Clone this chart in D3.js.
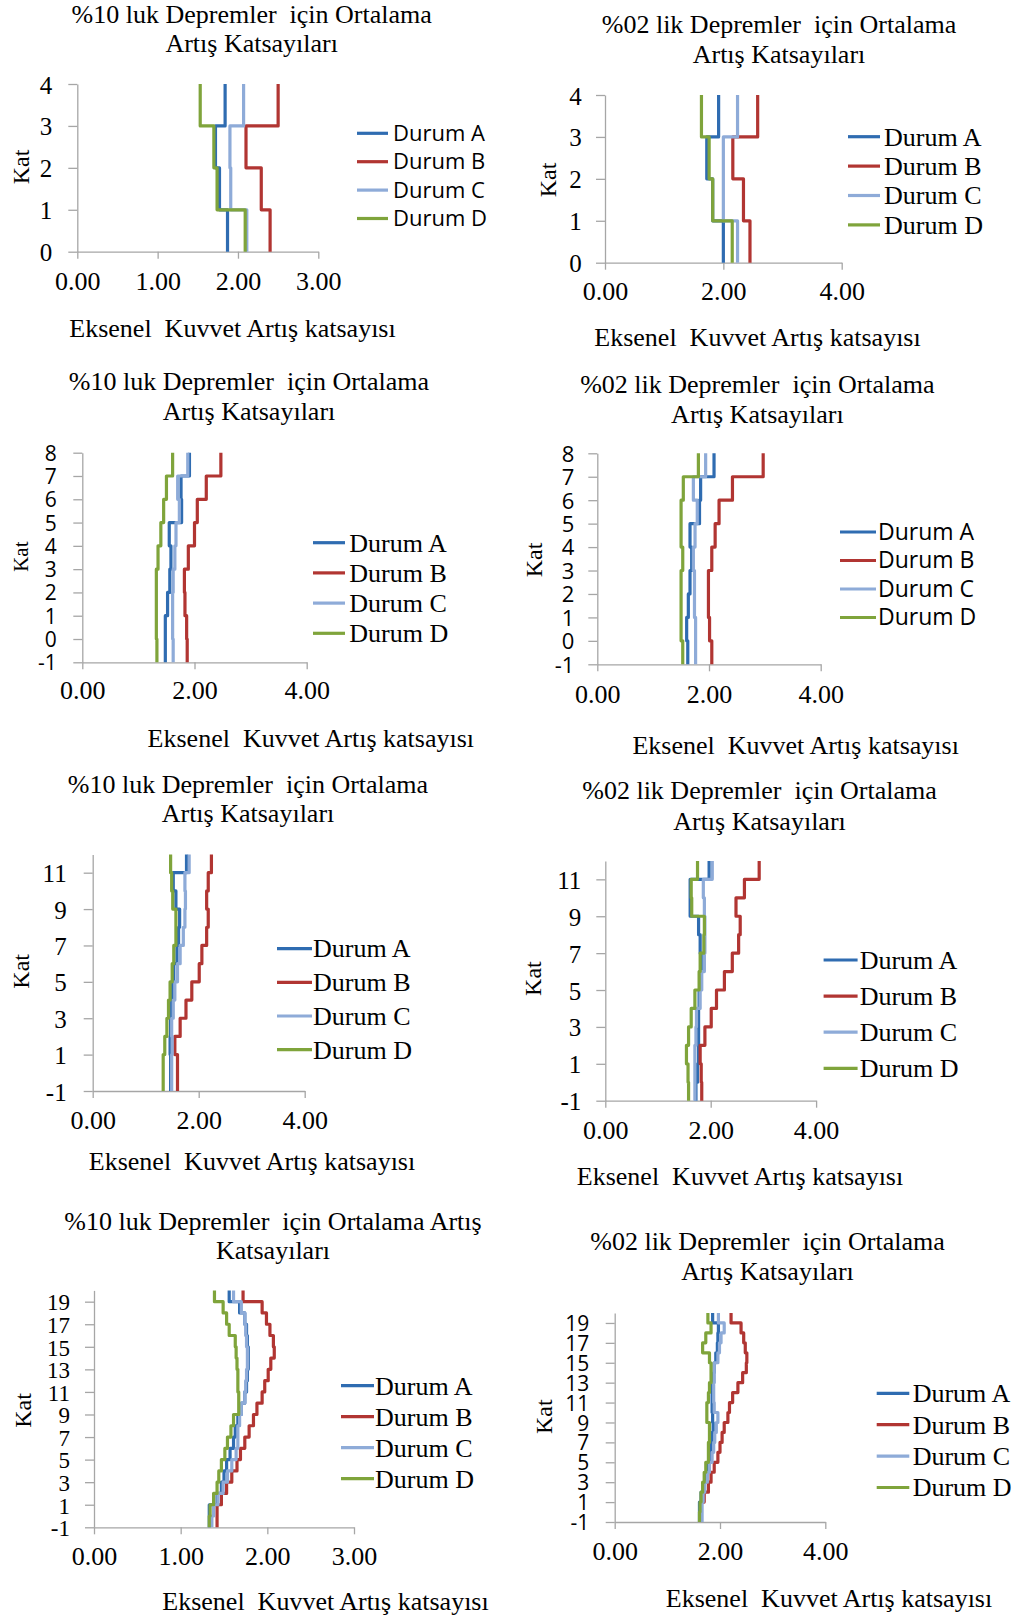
<!DOCTYPE html>
<html>
<head>
<meta charset="utf-8">
<script src="https://cdn.jsdelivr.net/npm/d3@7"></script>
<style>
  body { margin: 0; background: #fff; }
  svg { display: block; }
  text { fill: #000; white-space: pre; }
</style>
</head>
<body>
<div id="chart"></div>
<script>
// seri adlari ve renkler
const durumlar = ["Durum A", "Durum B", "Durum C", "Durum D"];
const renkler = ["#2f6cb1", "#b13532", "#8eabd8", "#7fa43b"];

// basliklar
const baslik10 = ["%10 luk Depremler  için Ortalama", "Artış Katsayıları"];
const baslik02 = ["%02 lik Depremler  için Ortalama", "Artış Katsayıları"];
const baslik10uzun = ["%10 luk Depremler  için Ortalama Artış", "Katsayıları"];
const eksenX = "Eksenel  Kuvvet Artış katsayısı";
const eksenY = "Kat";

// tick degerleri
const katTicks4 = [0, 1, 2, 3, 4];
const katTicks8 = [-1, 0, 1, 2, 3, 4, 5, 6, 7, 8];
const katTicks12 = [-1, 1, 3, 5, 7, 9, 11];
const katTicks20 = [-1, 1, 3, 5, 7, 9, 11, 13, 15, 17, 19];
const xTicks3 = [0, 1, 2, 3];
const xTicks4 = [0, 2, 4];

// 4 katli - %10 (kat 0..3)
const p1A = [1.87, 1.77, 1.72, 1.84];
const p1B = [2.40, 2.29, 2.10, 2.50];
const p1C = [2.11, 1.91, 1.90, 2.07];
const p1D = [2.09, 1.74, 1.70, 1.53];
// 4 katli - %02
const p2A = [2.00, 1.82, 1.72, 1.92];
const p2B = [2.45, 2.34, 2.16, 2.58];
const p2C = [2.24, 2.00, 2.00, 2.24];
const p2D = [2.15, 1.82, 1.76, 1.63];

// 8 katli - %10 (kat -1..7)
const p3A = [1.48, 1.48, 1.52, 1.56, 1.58, 1.55, 1.77, 1.76, 1.91];
const p3B = [1.87, 1.86, 1.83, 1.82, 1.89, 2.00, 2.05, 2.21, 2.47];
const p3C = [1.62, 1.61, 1.61, 1.62, 1.65, 1.67, 1.73, 1.70, 1.88];
const p3D = [1.33, 1.32, 1.32, 1.32, 1.35, 1.40, 1.45, 1.50, 1.61];
// 8 katli - %02
const p4A = [1.62, 1.60, 1.63, 1.66, 1.69, 1.66, 1.83, 1.85, 2.09];
const p4B = [2.05, 2.01, 1.99, 1.99, 2.05, 2.11, 2.18, 2.42, 2.97];
const p4C = [1.76, 1.76, 1.74, 1.74, 1.72, 1.75, 1.79, 1.72, 1.94];
const p4D = [1.53, 1.50, 1.50, 1.50, 1.53, 1.50, 1.50, 1.54, 1.81];

// 12 katli - %10 (kat -1..11)
const p5A = [1.47, 1.47, 1.46, 1.47, 1.49, 1.50, 1.53, 1.59, 1.62, 1.64, 1.57, 1.52, 1.77];
const p5B = [1.60, 1.60, 1.55, 1.65, 1.76, 1.87, 2.01, 2.06, 2.15, 2.18, 2.15, 2.18, 2.24];
const p5C = [1.49, 1.49, 1.50, 1.49, 1.52, 1.55, 1.60, 1.65, 1.71, 1.74, 1.75, 1.74, 1.82];
const p5D = [1.33, 1.33, 1.36, 1.40, 1.43, 1.46, 1.50, 1.53, 1.57, 1.57, 1.51, 1.49, 1.47];
// 12 katli - %02
const p6A = [1.72, 1.75, 1.77, 1.77, 1.77, 1.78, 1.79, 1.82, 1.80, 1.77, 1.61, 1.61, 1.97];
const p6B = [1.83, 1.82, 1.80, 1.89, 2.01, 2.11, 2.26, 2.41, 2.53, 2.56, 2.48, 2.64, 2.92];
const p6C = [1.70, 1.70, 1.70, 1.72, 1.73, 1.80, 1.83, 1.88, 1.89, 1.89, 1.88, 1.86, 2.03];
const p6D = [1.58, 1.57, 1.54, 1.58, 1.63, 1.70, 1.78, 1.80, 1.87, 1.88, 1.64, 1.63, 1.75];

// 20 katli - %10 (kat -1..19)
const p7A = [1.33, 1.33, 1.42, 1.47, 1.50, 1.53, 1.57, 1.61, 1.63, 1.66, 1.70, 1.74, 1.76, 1.77, 1.78, 1.78, 1.77, 1.76, 1.74, 1.68, 1.56];
const p7B = [1.42, 1.42, 1.47, 1.53, 1.59, 1.65, 1.69, 1.74, 1.79, 1.84, 1.88, 1.94, 1.97, 2.01, 2.04, 2.08, 2.07, 2.03, 1.99, 1.94, 1.72];
const p7C = [1.36, 1.38, 1.43, 1.49, 1.54, 1.59, 1.64, 1.66, 1.66, 1.68, 1.70, 1.74, 1.75, 1.76, 1.77, 1.77, 1.76, 1.75, 1.74, 1.70, 1.61];
const p7D = [1.33, 1.34, 1.38, 1.42, 1.44, 1.47, 1.51, 1.54, 1.58, 1.61, 1.67, 1.67, 1.66, 1.66, 1.65, 1.64, 1.63, 1.56, 1.53, 1.49, 1.39];
// 20 katli - %02
const p8A = [1.61, 1.61, 1.64, 1.70, 1.73, 1.77, 1.80, 1.83, 1.85, 1.87, 1.86, 1.85, 1.85, 1.86, 1.88, 1.89, 1.92, 1.95, 1.96, 1.97, 1.86];
const p8B = [1.62, 1.64, 1.70, 1.78, 1.83, 1.89, 1.96, 2.00, 2.04, 2.08, 2.15, 2.18, 2.24, 2.34, 2.43, 2.50, 2.51, 2.48, 2.45, 2.40, 2.21];
const p8C = [1.66, 1.66, 1.68, 1.71, 1.76, 1.80, 1.85, 1.88, 1.90, 1.93, 1.96, 1.89, 1.88, 1.88, 1.89, 1.89, 1.96, 1.99, 2.02, 2.08, 1.97];
const p8D = [1.61, 1.62, 1.64, 1.67, 1.70, 1.73, 1.78, 1.78, 1.80, 1.80, 1.75, 1.75, 1.78, 1.80, 1.83, 1.83, 1.80, 1.67, 1.73, 1.83, 1.77];

const SERIF = "'Liberation Serif', 'Times New Roman', serif";
const SANS = "'Open Sans', 'Liberation Sans', sans-serif";

// panel yerlesimi
const paneller = [
  { seriler: [p1A, p1B, p1C, p1D], katBas: 0, katSon: 4, katTicks: katTicks4, xMax: 3, xTicks: xTicks3, baslik: baslik10,
    xL: 77.3, xR: 318.3, yT: 84, yB: 251.7, tx: 251.7, ty: [23.3, 51.7], kat: [21, 167, 24],
    yFont: SERIF, yFs: 25, yOff: 25, xOff: 38.3, ex: [232.5, 337],
    leg: { x1: 357, x2: 388, tx: 393, y0: 133.3, dy: 28.4, font: SANS, fs: 22 } },
  { seriler: [p2A, p2B, p2C, p2D], katBas: 0, katSon: 4, katTicks: katTicks4, xMax: 4, xTicks: xTicks4, baslik: baslik02,
    xL: 605, xR: 841.7, yT: 95, yB: 262.7, tx: 779, ty: [33, 63], kat: [548, 180, 24],
    yFont: SERIF, yFs: 25, yOff: 23.3, xOff: 37.3, ex: [757.5, 346],
    leg: { x1: 848, x2: 880, tx: 884, y0: 136.7, dy: 29.4, font: SERIF, fs: 26 } },
  { seriler: [p3A, p3B, p3C, p3D], katBas: -1, katSon: 8, katTicks: katTicks8, xMax: 4, xTicks: xTicks4, baslik: baslik10,
    xL: 82.3, xR: 306.7, yT: 452.7, yB: 662.3, tx: 249, ty: [390, 419.5], kat: [20.7, 556.7, 21],
    yFont: SANS, yFs: 21, yOff: 25.6, xOff: 37, ex: [310.8, 746.7],
    leg: { x1: 313, x2: 345, tx: 349.3, y0: 542.7, dy: 30.2, font: SERIF, fs: 26 } },
  { seriler: [p4A, p4B, p4C, p4D], katBas: -1, katSon: 8, katTicks: katTicks8, xMax: 4, xTicks: xTicks4, baslik: baslik02,
    xL: 597.3, xR: 820.7, yT: 453.3, yB: 664.3, tx: 757.4, ty: [393.4, 423.4], kat: [533.3, 560, 24],
    yFont: SANS, yFs: 22, yOff: 23, xOff: 38.7, ex: [795.7, 754],
    leg: { x1: 840, x2: 876, tx: 878, y0: 532, dy: 28.5, font: SANS, fs: 23 } },
  { seriler: [p5A, p5B, p5C, p5D], katBas: -1, katSon: 12, katTicks: katTicks12, xMax: 4, xTicks: xTicks4, baslik: baslik10,
    xL: 92.7, xR: 304.7, yT: 854.5, yB: 1091, tx: 248, ty: [793.3, 822.3], kat: [20.7, 971.3, 24],
    yFont: SERIF, yFs: 25, yOff: 26, xOff: 38, ex: [252, 1169.5],
    leg: { x1: 277, x2: 312, tx: 313, y0: 948.6, dy: 33.7, font: SERIF, fs: 26 } },
  { seriler: [p6A, p6B, p6C, p6D], katBas: -1, katSon: 12, katTicks: katTicks12, xMax: 4, xTicks: xTicks4, baslik: baslik02,
    xL: 605.3, xR: 816.1, yT: 860.9, yB: 1100.7, tx: 759.5, ty: [798.5, 829.5], kat: [533, 978.6, 24],
    yFont: SERIF, yFs: 25, yOff: 24, xOff: 38.8, ex: [740, 1185],
    leg: { x1: 823.6, x2: 857.6, tx: 859.7, y0: 960, dy: 36.1, font: SERIF, fs: 26 } },
  { seriler: [p7A, p7B, p7C, p7D], katBas: -1, katSon: 20, katTicks: katTicks20, xMax: 3, xTicks: xTicks3, baslik: baslik10uzun,
    xL: 94, xR: 354, yT: 1290.4, yB: 1527.3, tx: 273, ty: [1230.4, 1259.4], kat: [22.7, 1410.5, 24],
    yFont: SERIF, yFs: 23, yOff: 24, xOff: 37.7, ex: [325.5, 1609.7],
    leg: { x1: 341, x2: 374, tx: 375, y0: 1385.7, dy: 31, font: SERIF, fs: 26 } },
  { seriler: [p8A, p8B, p8C, p8D], katBas: -1, katSon: 20, katTicks: katTicks20, xMax: 4, xTicks: xTicks4, baslik: baslik02,
    xL: 614.7, xR: 825.3, yT: 1313, yB: 1522, tx: 767.5, ty: [1250, 1280], kat: [543.3, 1416.7, 24],
    yFont: SANS, yFs: 21, yOff: 25.4, xOff: 38, ex: [829, 1606.7],
    leg: { x1: 876.7, x2: 909.3, tx: 912.7, y0: 1393.3, dy: 31.4, font: SERIF, fs: 26 } }
];

const svg = d3.select("#chart").append("svg")
    .attr("width", 1024)
    .attr("height", 1620);

paneller.forEach(p => {
  const x = d3.scaleLinear().domain([0, p.xMax]).range([p.xL, p.xR]);
  const y = d3.scaleLinear().domain([p.katBas, p.katSon]).range([p.yB, p.yT]);
  const g = svg.append("g");

  // baslik
  p.baslik.forEach((t, i) => {
    g.append("text")
      .attr("x", p.tx).attr("y", p.ty[i])
      .attr("text-anchor", "middle")
      .style("font-family", SERIF).style("font-size", "26px")
      .text(t);
  });

  // y ekseni
  const ya = g.append("g")
      .attr("transform", "translate(" + p.xL + ",0)")
      .call(d3.axisLeft(y).tickValues(p.katTicks).tickSize(9).tickSizeOuter(0).tickFormat(d => String(d)))
      .attr("font-family", null).attr("font-size", null);
  ya.select(".domain").attr("stroke", "#a6a6a6").attr("stroke-width", 1.3);
  ya.selectAll(".tick line").attr("stroke", "#a6a6a6").attr("stroke-width", 1.3);
  ya.selectAll(".tick text")
      .attr("x", -p.yOff).attr("dy", "0.36em")
      .style("font-family", p.yFont).style("font-size", p.yFs + "px");

  // x ekseni
  const xa = g.append("g")
      .attr("transform", "translate(0," + p.yB + ")")
      .call(d3.axisBottom(x).tickValues(p.xTicks).tickSize(7).tickSizeOuter(0).tickFormat(d3.format(".2f")))
      .attr("font-family", null).attr("font-size", null);
  xa.select(".domain").attr("stroke", "#a6a6a6").attr("stroke-width", 1.3);
  xa.selectAll(".tick line").attr("stroke", "#a6a6a6").attr("stroke-width", 1.3);
  xa.selectAll(".tick text")
      .attr("y", p.xOff).attr("dy", 0)
      .style("font-family", SERIF).style("font-size", "26px");

  // eksen basliklari
  g.append("text")
    .attr("x", p.ex[0]).attr("y", p.ex[1])
    .attr("text-anchor", "middle")
    .style("font-family", SERIF).style("font-size", "26px")
    .text(eksenX);
  g.append("text")
    .attr("transform", "translate(" + p.kat[0] + "," + p.kat[1] + ") rotate(-90)")
    .attr("text-anchor", "middle").attr("dy", "0.35em")
    .style("font-family", SERIF).style("font-size", p.kat[2] + "px")
    .text(eksenY);

  // basamakli kat cizgileri
  const line = d3.line()
      .x(d => x(d[0]))
      .y(d => y(d[1]));
  p.seriler.forEach((s, si) => {
    const pts = [];
    s.forEach((v, i) => {
      pts.push([v, p.katBas + i]);
      pts.push([v, p.katBas + i + 1]);
    });
    g.append("path")
      .datum(pts)
      .attr("fill", "none")
      .attr("stroke", renkler[si])
      .attr("stroke-width", 3.2)
      .attr("stroke-linejoin", "round")
      .attr("d", line);
  });

  // lejant
  const L = p.leg;
  durumlar.forEach((d, i) => {
    const ly = L.y0 + i * L.dy;
    g.append("line")
      .attr("x1", L.x1).attr("x2", L.x2)
      .attr("y1", ly).attr("y2", ly)
      .attr("stroke", renkler[i]).attr("stroke-width", 3.2);
    g.append("text")
      .attr("x", L.tx).attr("y", ly).attr("dy", "0.34em")
      .style("font-family", L.font).style("font-size", L.fs + "px")
      .text(d);
  });
});
</script>
</body>
</html>
